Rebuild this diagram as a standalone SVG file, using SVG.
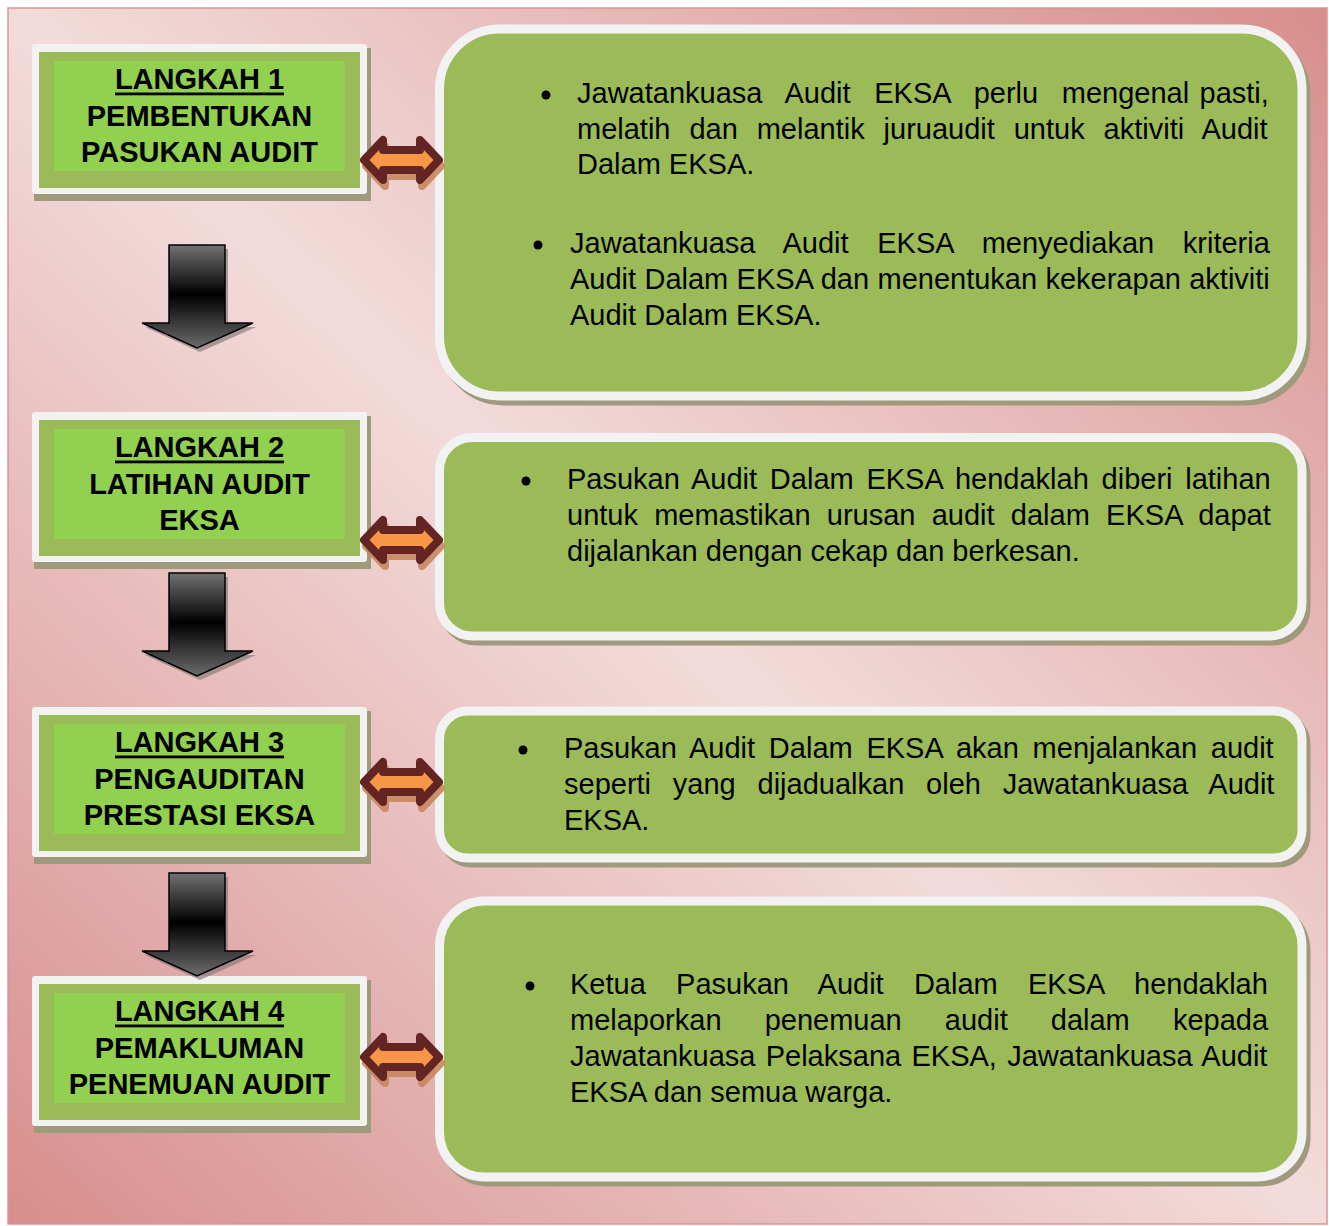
<svg xmlns="http://www.w3.org/2000/svg" width="1329" height="1226" viewBox="0 0 1329 1226">
<defs>
<linearGradient id="bg" x1="1" y1="0" x2="0" y2="1">
<stop offset="0" stop-color="#d78e8c"/>
<stop offset="0.5" stop-color="#f2dcdb"/>
<stop offset="1" stop-color="#d78e8c"/>
</linearGradient>
<linearGradient id="dn" x1="0" y1="0" x2="0" y2="1">
<stop offset="0" stop-color="#727272"/>
<stop offset="0.48" stop-color="#000000"/>
<stop offset="1" stop-color="#6c6c6c"/>
</linearGradient>
<path id="downArrow" d="M169,245 H225 V323 H253 L197,348 L142,323 H169 Z"/>
<polygon id="dbl" points="364,0 383,-20 383,-10 420,-10 420,-20 439,0 420,20 420,10 383,10 383,20"/>
</defs>
<style>
.bold{font-family:"Liberation Sans",Arial,sans-serif;font-weight:bold;font-size:29px;fill:#000;text-anchor:middle}
.body{font-family:"Liberation Sans",Arial,sans-serif;font-size:29px;fill:#000}
.frame{fill:#f2f2f2}
.lshadow{fill:#a09a7c}
.dk{fill:#9bbb59}
.lt{fill:#92d050}
.rbox{fill:#9bbb59;stroke:#f2f2f2;stroke-width:9}
.rshadow{fill:#9f9a7c;stroke:#9f9a7c;stroke-width:9}
.bullet{fill:#000}
.darr{fill:url(#dn);stroke:#000;stroke-width:1.5}
.dshadow{fill:#8a7d7d;opacity:0.7}
.harr{fill:#f79646;stroke:#632523;stroke-width:8;stroke-linejoin:round}
.hshadow{fill:#c8875f;stroke:#c8875f;stroke-width:8;stroke-linejoin:round;opacity:0.9}
</style>
<rect x="0" y="0" width="1329" height="1226" fill="#ffffff"/>
<rect x="8" y="8" width="1319" height="1216" fill="url(#bg)" stroke="#d99594" stroke-width="1.5"/>

<g id="step1">
<rect class="lshadow" x="34" y="48" width="337" height="153"/>
<rect class="frame" x="32" y="44" width="335" height="150" rx="3"/>
<rect class="dk" x="39" y="52" width="321" height="136"/>
<rect class="lt" x="54" y="61" width="291" height="110"/>
<text class="bold" x="199.5" y="89">LANGKAH 1</text>
<rect x="115" y="92.5" width="169" height="2.8" fill="#000"/>
<text class="bold" x="199.5" y="125.5">PEMBENTUKAN</text>
<text class="bold" x="199.5" y="161.5">PASUKAN AUDIT</text>
</g>

<g id="step2">
<rect class="lshadow" x="34" y="416" width="337" height="153"/>
<rect class="frame" x="32" y="412" width="335" height="150" rx="3"/>
<rect class="dk" x="39" y="420" width="321" height="136"/>
<rect class="lt" x="54" y="429" width="291" height="110"/>
<text class="bold" x="199.5" y="457">LANGKAH 2</text>
<rect x="115" y="460.5" width="169" height="2.8" fill="#000"/>
<text class="bold" x="199.5" y="493.5">LATIHAN AUDIT</text>
<text class="bold" x="199.5" y="529.5">EKSA</text>
</g>

<g id="step3">
<rect class="lshadow" x="34" y="711" width="337" height="153"/>
<rect class="frame" x="32" y="707" width="335" height="150" rx="3"/>
<rect class="dk" x="39" y="715" width="321" height="136"/>
<rect class="lt" x="54" y="724" width="291" height="110"/>
<text class="bold" x="199.5" y="752">LANGKAH 3</text>
<rect x="115" y="755.5" width="169" height="2.8" fill="#000"/>
<text class="bold" x="199.5" y="788.5">PENGAUDITAN</text>
<text class="bold" x="199.5" y="824.5">PRESTASI EKSA</text>
</g>

<g id="step4">
<rect class="lshadow" x="34" y="980" width="337" height="153"/>
<rect class="frame" x="32" y="976" width="335" height="150" rx="3"/>
<rect class="dk" x="39" y="984" width="321" height="136"/>
<rect class="lt" x="54" y="993" width="291" height="110"/>
<text class="bold" x="199.5" y="1021">LANGKAH 4</text>
<rect x="115" y="1024.5" width="169" height="2.8" fill="#000"/>
<text class="bold" x="199.5" y="1057.5">PEMAKLUMAN</text>
<text class="bold" x="199.5" y="1093.5">PENEMUAN AUDIT</text>
</g>

<g id="detail1">
<rect class="rshadow" x="443.5" y="34" width="862.5" height="367" rx="60"/>
<rect class="rbox" x="439.5" y="29" width="862.5" height="367" rx="60"/>
<circle class="bullet" cx="546" cy="95" r="4.5"/>
<text class="body" x="577" y="103" word-spacing="2.3"><tspan word-spacing="15.6">Jawatankuasa Audit EKSA perlu </tspan>mengenal pasti,</text>
<text class="body" x="577" y="138.5" word-spacing="10.85">melatih dan melantik juruaudit untuk aktiviti Audit</text>
<text class="body" x="577" y="174">Dalam EKSA.</text>
<circle class="bullet" cx="538" cy="245" r="4.5"/>
<text class="body" x="570" y="253" word-spacing="20.6">Jawatankuasa Audit EKSA menyediakan kriteria</text>
<text class="body" x="570" y="289" word-spacing="0.3">Audit Dalam EKSA dan menentukan kekerapan aktiviti</text>
<text class="body" x="570" y="325">Audit Dalam EKSA.</text>
</g>

<g id="detail2">
<rect class="rshadow" x="443.5" y="442.5" width="862.5" height="198.5" rx="33"/>
<rect class="rbox" x="439.5" y="437.5" width="862.5" height="198.5" rx="33"/>
<circle class="bullet" cx="526" cy="481" r="4.5"/>
<text class="body" x="567" y="489" word-spacing="4.7">Pasukan Audit Dalam EKSA hendaklah diberi latihan</text>
<text class="body" x="567" y="525" word-spacing="8.2">untuk memastikan urusan audit dalam EKSA dapat</text>
<text class="body" x="567" y="561">dijalankan dengan cekap dan berkesan.</text>
</g>

<g id="detail3">
<rect class="rshadow" x="443.5" y="716" width="862.5" height="147" rx="28"/>
<rect class="rbox" x="439.5" y="711" width="862.5" height="147" rx="28"/>
<circle class="bullet" cx="523" cy="750" r="4.5"/>
<text class="body" x="564" y="758" word-spacing="5.7">Pasukan Audit Dalam EKSA akan menjalankan audit</text>
<text class="body" x="564" y="794" word-spacing="13.75">seperti yang dijadualkan oleh Jawatankuasa Audit</text>
<text class="body" x="564" y="830">EKSA.</text>
</g>

<g id="detail4">
<rect class="rshadow" x="443.5" y="906" width="862.5" height="276" rx="45"/>
<rect class="rbox" x="439.5" y="901" width="862.5" height="276" rx="45"/>
<circle class="bullet" cx="530" cy="986" r="4.5"/>
<text class="body" x="570" y="994" word-spacing="22.2">Ketua Pasukan Audit Dalam EKSA hendaklah</text>
<text class="body" x="570" y="1030" word-spacing="35.05">melaporkan penemuan audit dalam kepada</text>
<text class="body" x="570" y="1066" word-spacing="2.25">Jawatankuasa Pelaksana EKSA, Jawatankuasa Audit</text>
<text class="body" x="570" y="1102">EKSA dan semua warga.</text>
</g>

<g id="connectors">
<use href="#downArrow" class="dshadow" transform="translate(3,4)"/>
<use href="#downArrow" class="darr"/>
<use href="#downArrow" class="dshadow" transform="translate(3,332)"/>
<use href="#downArrow" class="darr" transform="translate(0,328)"/>
<use href="#downArrow" class="dshadow" transform="translate(3,632)"/>
<use href="#downArrow" class="darr" transform="translate(0,628)"/>

<use href="#dbl" class="hshadow" transform="translate(2,166)"/>
<use href="#dbl" class="harr" transform="translate(0,160)"/>
<use href="#dbl" class="hshadow" transform="translate(2,546)"/>
<use href="#dbl" class="harr" transform="translate(0,540)"/>
<use href="#dbl" class="hshadow" transform="translate(2,788)"/>
<use href="#dbl" class="harr" transform="translate(0,782)"/>
<use href="#dbl" class="hshadow" transform="translate(2,1063)"/>
<use href="#dbl" class="harr" transform="translate(0,1057)"/>
</g>
</svg>
